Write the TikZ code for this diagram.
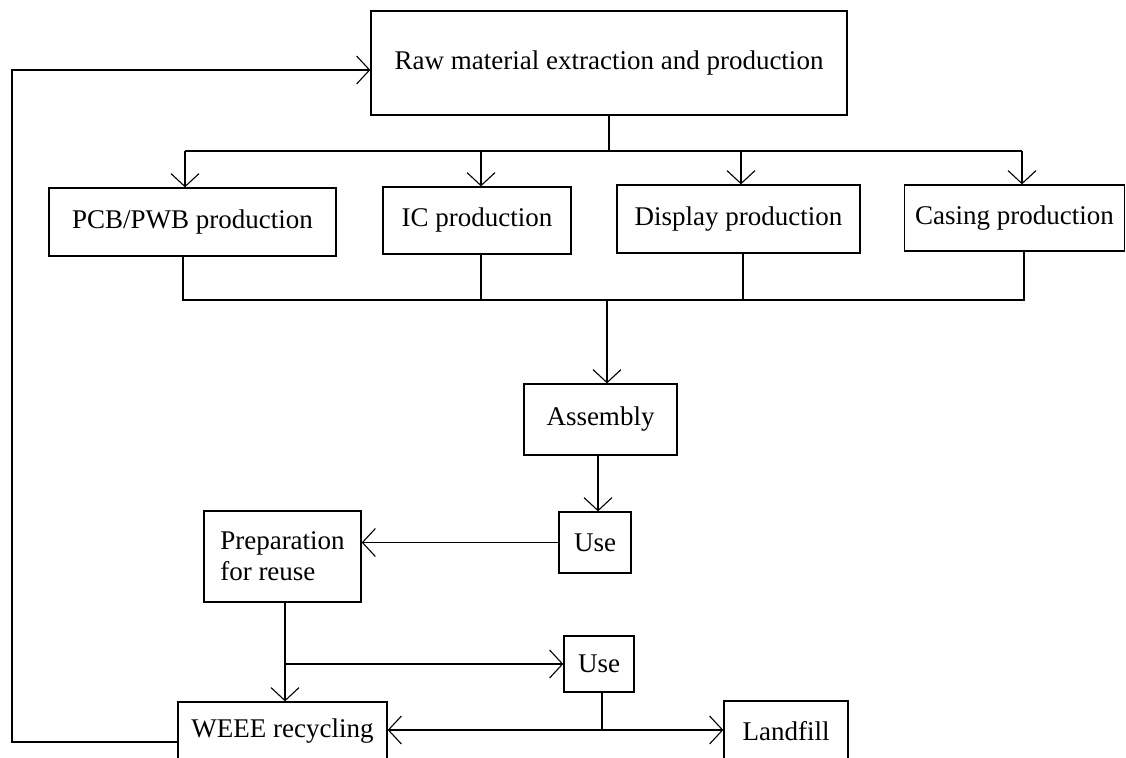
\documentclass[tikz,border=0pt]{standalone}
\usepackage{fontspec}
\setmainfont{Liberation Serif}
\usetikzlibrary{arrows.meta}
\tikzset{
  box/.style={draw, line width=1.3pt, inner sep=0pt, font=\fontsize{27}{31}\selectfont},
  ln/.style={line width=1.3pt},
  arr/.style={line width=1.3pt, -{Straight Barb[length=13pt,width=28pt,line width=1.1pt]}},
}
\begin{document}
\begin{tikzpicture}[x=1pt,y=-1pt]
\useasboundingbox (0,0) rectangle (1126,757);
\clip (0,0) rectangle (1126,757);
\fill[white] (0,0) rectangle (1126,757);
% nodes
\node[box, minimum width=476, minimum height=104] (raw) at (609,63) {Raw material extraction and production};
\node[box, minimum width=287, minimum height=68] (pcb) at (192.5,222) {PCB/PWB production};
\node[box, minimum width=188, minimum height=67] (ic) at (477,220.5) {IC production};
\node[box, minimum width=243, minimum height=68] (disp) at (738.5,219) {Display production};
\node[box, minimum width=220, minimum height=66] (cas) at (1014.5,218) {Casing production};
\node[box, minimum width=153, minimum height=71] (asm) at (600.5,419.5) {Assembly};
\node[box, minimum width=72, minimum height=61] (use1) at (595,542.5) {Use};
\node[box, minimum width=157, minimum height=91, align=left] (prep) at (282.5,556.5) {Preparation\\for reuse};
\node[box, minimum width=70, minimum height=56] (use2) at (599,664) {Use};
\node[box, minimum width=209, minimum height=58] (weee) at (282.5,731) {WEEE recycling};
\node[box, minimum width=124, minimum height=60] (land) at (786,731) {Landfill};
% top distribution
\coordinate (tc) at (609,151);
\coordinate (t1) at (185,151);
\coordinate (t2) at (481,151);
\coordinate (t3) at (741,151);
\coordinate (t4) at (1022,151);
\draw[ln] (raw.south) -- (tc);
\draw[ln] (t1) -- (t4);
\draw[arr] (t1) -- (t1 |- pcb.north);
\draw[arr] (t2) -- (t2 |- ic.north);
\draw[arr] (t3) -- (t3 |- disp.north);
\draw[arr] (t4) -- (t4 |- cas.north);
% bottom collection
\coordinate (b1) at (183,300);
\coordinate (b2) at (481,300);
\coordinate (b3) at (743,300);
\coordinate (b4) at (1024,300);
\coordinate (bc) at (607,300);
\draw[ln] (b1 |- pcb.south) -- (b1) -- (b4) -- (b4 |- cas.south);
\draw[ln] (b2 |- ic.south) -- (b2);
\draw[ln] (b3 |- disp.south) -- (b3);
\draw[arr] (bc) -- (bc |- asm.north);
% assembly to use
\coordinate (a1) at (598,455);
\draw[arr] (a1 |- asm.south) -- (a1 |- use1.north);
\draw[arr] (use1.west) -- (use1.west -| prep.east);
% preparation down
\coordinate (p1) at (285,602);
\coordinate (p2) at (285,664);
\draw[arr] (p1 |- prep.south) -- (p1 |- weee.north);
\draw[arr] (p2) -- (use2.west);
% use2 split
\coordinate (u1) at (602,730);
\draw[ln] (u1 |- use2.south) -- (u1);
\draw[arr] (u1) -- (u1 -| weee.east);
\draw[arr] (u1) -- (u1 -| land.west);
% feedback
\coordinate (f1) at (12,742);
\coordinate (f2) at (12,70);
\draw[arr] (f1 -| weee.west) -- (f1) -- (f2) -- (f2 -| raw.west);
\end{tikzpicture}
\end{document}
